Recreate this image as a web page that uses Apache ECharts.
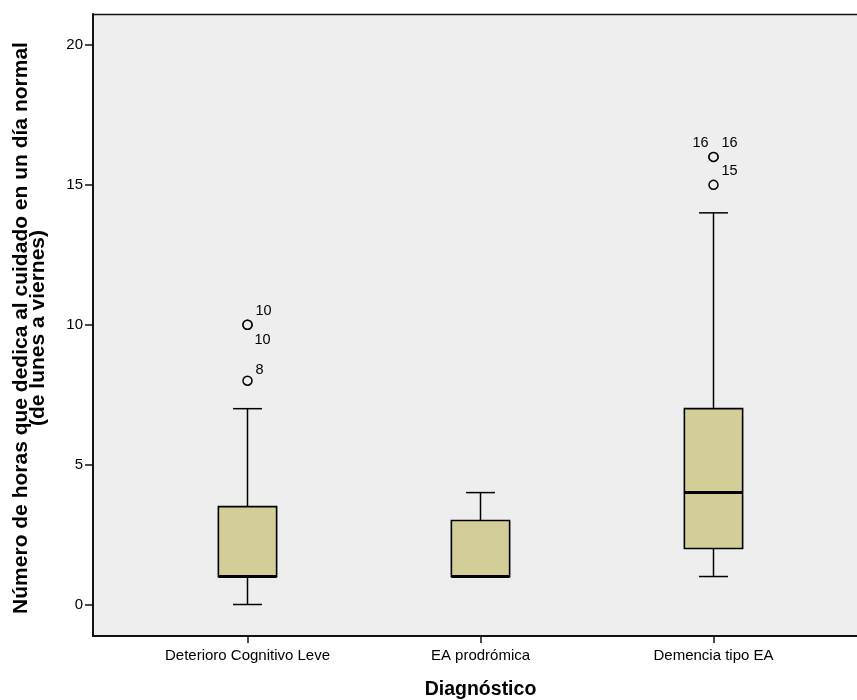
<!DOCTYPE html>
<html>
<head>
<meta charset="utf-8">
<script src="https://cdn.jsdelivr.net/npm/echarts@6/dist/echarts.min.js"></script>
<style>
  html, body { margin: 0; padding: 0; background: #fff; }
  #chart { width: 857px; height: 700px; }
</style>
</head>
<body>
<div id="chart"></div>
<script>
// Hours per weekday devoted to caregiving, by diagnosis group
const categories = ['Deterioro Cognitivo Leve', 'EA prodrómica', 'Demencia tipo EA'];
const whiskerLow  = [0, 1, 1];
const quartile1   = [1, 1, 2];
const medians     = [1, 1, 4];
const quartile3   = [3.5, 3, 7];
const whiskerHigh = [7, 4, 14];

// Outlying cases (group index, hours)
const outlierGroup = [0, 0, 0, 2, 2, 2];
const outlierValue = [10, 10, 8, 16, 16, 15];

const yTicks = [0, 5, 10, 15, 20];

const FONT = '"Liberation Sans", Arial, Helvetica, sans-serif';
const PLOT_BG = '#eeeeee';
const BOX_FILL = '#d3ce98';

// label placement for each outlier's case label (px from the point)
const labelShift = [[16, -14], [15, 15], [12, -11], [-13, -14], [16, -14], [16, -14]];

const boxData = categories.map((c, i) =>
  [i, whiskerLow[i], quartile1[i], medians[i], quartile3[i], whiskerHigh[i]]);

const outlierData = outlierValue.map((v, i) => ({
  value: [outlierGroup[i], v],
  label: { offset: labelShift[i] }
}));

function renderBox(params, api) {
  const x = api.value(0);
  const band = api.size([1, 0])[0];
  const half = band * 0.125;
  const capHalf = band * 0.062;
  const pLow = api.coord([x, api.value(1)]);
  const pQ1 = api.coord([x, api.value(2)]);
  const pMed = api.coord([x, api.value(3)]);
  const pQ3 = api.coord([x, api.value(4)]);
  const pHigh = api.coord([x, api.value(5)]);
  const cx = pQ1[0];
  const line = { stroke: '#000', lineWidth: 1.5 };
  return {
    type: 'group',
    children: [
      { type: 'line', shape: { x1: cx, y1: pQ1[1], x2: cx, y2: pLow[1] }, style: line },
      { type: 'line', shape: { x1: cx - capHalf, y1: pLow[1], x2: cx + capHalf, y2: pLow[1] }, style: line },
      { type: 'line', shape: { x1: cx, y1: pQ3[1], x2: cx, y2: pHigh[1] }, style: line },
      { type: 'line', shape: { x1: cx - capHalf, y1: pHigh[1], x2: cx + capHalf, y2: pHigh[1] }, style: line },
      { type: 'rect', shape: { x: cx - half, y: pQ3[1], width: half * 2, height: pQ1[1] - pQ3[1] },
        style: { fill: BOX_FILL, stroke: '#000', lineWidth: 1.6 } },
      { type: 'line', shape: { x1: cx - half, y1: pMed[1], x2: cx + half, y2: pMed[1] },
        style: { stroke: '#000', lineWidth: 3 } }
    ]
  };
}

const chart = echarts.init(document.getElementById('chart'), null, { renderer: 'canvas' });

chart.setOption({
  animation: false,
  backgroundColor: '#ffffff',
  textStyle: { fontFamily: FONT, color: '#000' },
  grid: {
    left: 131, right: 27, top: 14, bottom: 64,
    containLabel: false, outerBoundsMode: 'none'
  },
  graphic: [
    { type: 'rect', z: -10, silent: true,
      shape: { x: 93, y: 14, width: 764, height: 622 },
      style: { fill: PLOT_BG } },
    { type: 'line', z: 100, silent: true,
      shape: { x1: 93, y1: 14.5, x2: 857, y2: 14.5 },
      style: { stroke: '#111', lineWidth: 1.5 } },
    { type: 'line', z: 100, silent: true,
      shape: { x1: 92, y1: 636, x2: 857, y2: 636 },
      style: { stroke: '#111', lineWidth: 2 } }
  ],
  xAxis: {
    type: 'category',
    data: categories,
    boundaryGap: true,
    axisLine: { show: false, onZero: false },
    axisTick: { show: true, alignWithLabel: true, length: 7, lineStyle: { color: '#111', width: 1.5 } },
    axisLabel: { color: '#000', fontFamily: FONT, fontSize: 15, margin: 12 },
    splitLine: { show: false },
    name: 'Diagnóstico',
    nameLocation: 'middle',
    nameGap: 44,
    nameTextStyle: { fontFamily: FONT, fontSize: 19.5, fontWeight: 'bold', color: '#000' }
  },
  yAxis: {
    type: 'value',
    min: -1.126,
    max: 21.108,
    offset: 38,
    axisLine: { show: true, lineStyle: { color: '#111', width: 2 } },
    axisTick: { show: true, customValues: yTicks, length: 8, lineStyle: { color: '#111', width: 1.5 } },
    axisLabel: { customValues: yTicks, color: '#000', fontFamily: FONT, fontSize: 15, margin: 10 },
    splitLine: { show: false },
    name: 'Número de horas que dedica al cuidado en un día normal\n(de lunes a viernes)',
    nameLocation: 'middle',
    nameGap: 46,
    nameTextStyle: {
      fontFamily: FONT, fontSize: 21, fontWeight: 'bold', color: '#000',
      lineHeight: 17.5, padding: [0, 6, 0, 0]
    }
  },
  series: [
    {
      type: 'custom',
      renderItem: renderBox,
      encode: { x: 0, y: [1, 2, 3, 4, 5] },
      data: boxData,
      z: 3
    },
    {
      type: 'scatter',
      data: outlierData,
      symbol: 'circle',
      symbolSize: 9,
      itemStyle: { color: PLOT_BG, borderColor: '#000', borderWidth: 1.5, opacity: 1 },
      label: {
        show: true,
        position: 'inside',
        formatter: p => String(p.value[1]),
        color: '#000',
        fontFamily: FONT,
        fontSize: 14.5
      },
      z: 4
    }
  ]
});
</script>
</body>
</html>
